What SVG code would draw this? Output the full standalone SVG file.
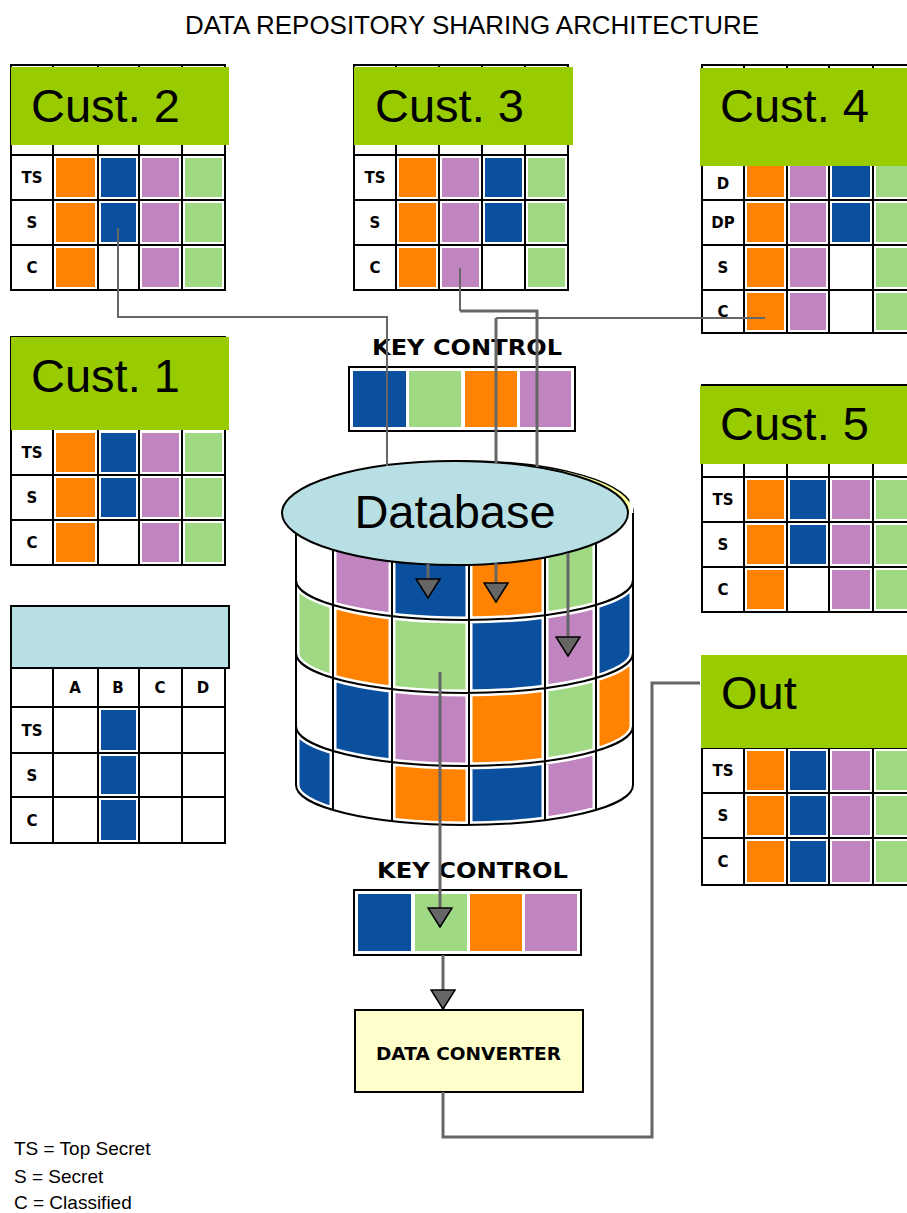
<svg xmlns="http://www.w3.org/2000/svg" width="907" height="1213" viewBox="0 0 907 1213">
<style>
.o{fill:#ff8200}.b{fill:#0b4f9f}.p{fill:#c084c0}.g{fill:#a0d984}
.frame{fill:#fff;stroke:#000;stroke-width:2}
.gl{stroke:#000;stroke-width:2;fill:none}
.hdr{fill:#99cc00}
.cust{font-family:"Liberation Sans",Arial,sans-serif;font-size:47px;fill:#000}
.lbl{font-family:"DejaVu Sans",sans-serif;font-weight:bold;font-size:15px;text-anchor:middle;fill:#000}
.kc{font-family:"DejaVu Sans",sans-serif;font-weight:bold;font-size:21px;fill:#000}
.conn{fill:none;stroke:#666;stroke-width:3}
.thin{stroke-width:2}
.leg{font-family:"Liberation Sans",Arial,sans-serif;font-size:19px;fill:#000}
</style>
<defs>
<marker id="tri" markerUnits="userSpaceOnUse" markerWidth="22" markerHeight="26" refX="19" refY="12" orient="auto" viewBox="-1 -1 21 26">
<path d="M0,0 L19,12 L0,24 Z" fill="#666" stroke="#000" stroke-width="1.5"/>
</marker>
<clipPath id="body"><path d="M296,500 L296,785 A168.5,40 0 0 0 633,785 L633,500 Z"/></clipPath>
<clipPath id="b0"><path d="M296,500 A168.5,40 0 0 0 633,500 L633,580 A168.5,40 0 0 1 296,580 Z"/></clipPath>
<clipPath id="b1"><path d="M296,580 A168.5,40 0 0 0 633,580 L633,653 A168.5,40 0 0 1 296,653 Z"/></clipPath>
<clipPath id="b2"><path d="M296,653 A168.5,40 0 0 0 633,653 L633,726 A168.5,40 0 0 1 296,726 Z"/></clipPath>
<clipPath id="b3"><path d="M296,726 A168.5,40 0 0 0 633,726 L633,785 A168.5,40 0 0 1 296,785 Z"/></clipPath>
</defs>
<rect width="907" height="1213" fill="#fff"/>
<text x="472" y="34" text-anchor="middle" font-family="Liberation Sans, Arial, sans-serif" font-size="25" textLength="574" lengthAdjust="spacingAndGlyphs">DATA REPOSITORY SHARING ARCHITECTURE</text>

<!-- Cust 2 -->
<g id="cust2">
<rect class="frame" x="11" y="65" width="214" height="225"/>
<path class="gl" d="M53,65V290M98,65V290M139,65V290M182,65V290M11,155H225M11,200H225M11,245H225"/>
<rect class="o" x="56" y="158" width="39" height="39"/><rect class="b" x="101" y="158" width="35" height="39"/><rect class="p" x="142" y="158" width="37" height="39"/><rect class="g" x="185" y="158" width="37" height="39"/>
<rect class="o" x="56" y="203" width="39" height="39"/><rect class="b" x="101" y="203" width="35" height="39"/><rect class="p" x="142" y="203" width="37" height="39"/><rect class="g" x="185" y="203" width="37" height="39"/>
<rect class="o" x="56" y="248" width="39" height="39"/><rect class="p" x="142" y="248" width="37" height="39"/><rect class="g" x="185" y="248" width="37" height="39"/>
<rect class="hdr" x="11" y="67" width="218" height="78"/>
<text class="cust" x="31" y="122">Cust. 2</text>
<text class="lbl" x="32" y="183">TS</text><text class="lbl" x="32" y="228">S</text><text class="lbl" x="32" y="273">C</text>
</g>

<!-- Cust 3 -->
<g id="cust3">
<rect class="frame" x="354" y="65" width="214" height="225"/>
<path class="gl" d="M396,65V290M439,65V290M482,65V290M525,65V290M354,155H568M354,200H568M354,245H568"/>
<rect class="o" x="399" y="158" width="37" height="39"/><rect class="p" x="442" y="158" width="37" height="39"/><rect class="b" x="485" y="158" width="37" height="39"/><rect class="g" x="528" y="158" width="37" height="39"/>
<rect class="o" x="399" y="203" width="37" height="39"/><rect class="p" x="442" y="203" width="37" height="39"/><rect class="b" x="485" y="203" width="37" height="39"/><rect class="g" x="528" y="203" width="37" height="39"/>
<rect class="o" x="399" y="248" width="37" height="39"/><rect class="p" x="442" y="248" width="37" height="39"/><rect class="g" x="528" y="248" width="37" height="39"/>
<rect class="hdr" x="354" y="67" width="219" height="78"/>
<text class="cust" x="375" y="122">Cust. 3</text>
<text class="lbl" x="375" y="183">TS</text><text class="lbl" x="375" y="228">S</text><text class="lbl" x="375" y="273">C</text>
</g>

<!-- Cust 4 -->
<g id="cust4">
<rect class="frame" x="702" y="65" width="214" height="268"/>
<path class="gl" d="M744,65V333M787,65V333M829,65V333M873,65V333M702,200H916M702,245H916M702,290H916"/>
<rect class="o" x="747" y="158" width="37" height="39"/><rect class="p" x="790" y="158" width="36" height="39"/><rect class="b" x="832" y="158" width="38" height="39"/><rect class="g" x="876" y="158" width="37" height="39"/>
<rect class="o" x="747" y="203" width="37" height="39"/><rect class="p" x="790" y="203" width="36" height="39"/><rect class="b" x="832" y="203" width="38" height="39"/><rect class="g" x="876" y="203" width="37" height="39"/>
<rect class="o" x="747" y="248" width="37" height="39"/><rect class="p" x="790" y="248" width="36" height="39"/><rect class="g" x="876" y="248" width="37" height="39"/>
<rect class="o" x="747" y="293" width="37" height="37"/><rect class="p" x="790" y="293" width="36" height="37"/><rect class="g" x="876" y="293" width="37" height="37"/>
<rect class="hdr" x="700" y="68" width="207" height="98"/>
<text class="cust" x="720" y="122">Cust. 4</text>
<text class="lbl" x="723" y="189">D</text><text class="lbl" x="723" y="228">DP</text><text class="lbl" x="723" y="273">S</text><text class="lbl" x="723" y="317">C</text>
</g>

<!-- Cust 1 -->
<g id="cust1">
<rect class="frame" x="11" y="337" width="214" height="228"/>
<path class="gl" d="M53,337V565M98,337V565M139,337V565M182,337V565M11,475H225M11,520H225"/>
<rect class="o" x="56" y="433" width="39" height="39"/><rect class="b" x="101" y="433" width="35" height="39"/><rect class="p" x="142" y="433" width="37" height="39"/><rect class="g" x="185" y="433" width="37" height="39"/>
<rect class="o" x="56" y="478" width="39" height="39"/><rect class="b" x="101" y="478" width="35" height="39"/><rect class="p" x="142" y="478" width="37" height="39"/><rect class="g" x="185" y="478" width="37" height="39"/>
<rect class="o" x="56" y="523" width="39" height="39"/><rect class="p" x="142" y="523" width="37" height="39"/><rect class="g" x="185" y="523" width="37" height="39"/>
<rect class="hdr" x="11" y="337" width="218" height="93"/>
<text class="cust" x="31" y="392">Cust. 1</text>
<text class="lbl" x="32" y="458">TS</text><text class="lbl" x="32" y="503">S</text><text class="lbl" x="32" y="548">C</text>
</g>

<!-- Legend table -->
<g id="keytable">
<rect class="frame" x="11" y="606" width="214" height="237"/>
<path class="gl" d="M53,668V843M98,668V843M139,668V843M182,668V843M11,707H225M11,753H225M11,797H225"/>
<rect class="b" x="101" y="710" width="35" height="40"/><rect class="b" x="101" y="756" width="35" height="38"/><rect class="b" x="101" y="800" width="35" height="40"/>
<rect x="11" y="606" width="218" height="62" fill="#b8e0e4" stroke="#000" stroke-width="2"/>
<text class="lbl" x="75" y="693">A</text><text class="lbl" x="118" y="693">B</text><text class="lbl" x="160" y="693">C</text><text class="lbl" x="203" y="693">D</text>
<text class="lbl" x="32" y="736">TS</text><text class="lbl" x="32" y="781">S</text><text class="lbl" x="32" y="826">C</text>
</g>

<!-- Cust 5 -->
<g id="cust5">
<rect class="frame" x="702" y="385" width="214" height="227"/>
<path class="gl" d="M744,385V612M787,385V612M829,385V612M873,385V612M702,477H916M702,522H916M702,567H916"/>
<rect class="o" x="747" y="480" width="37" height="39"/><rect class="b" x="790" y="480" width="36" height="39"/><rect class="p" x="832" y="480" width="38" height="39"/><rect class="g" x="876" y="480" width="37" height="39"/>
<rect class="o" x="747" y="525" width="37" height="39"/><rect class="b" x="790" y="525" width="36" height="39"/><rect class="p" x="832" y="525" width="38" height="39"/><rect class="g" x="876" y="525" width="37" height="39"/>
<rect class="o" x="747" y="570" width="37" height="39"/><rect class="p" x="832" y="570" width="38" height="39"/><rect class="g" x="876" y="570" width="37" height="39"/>
<rect class="hdr" x="700" y="386" width="207" height="78"/>
<text class="cust" x="720" y="440">Cust. 5</text>
<text class="lbl" x="723" y="505">TS</text><text class="lbl" x="723" y="550">S</text><text class="lbl" x="723" y="595">C</text>
</g>

<!-- Out -->
<g id="out">
<rect class="frame" x="702" y="748" width="214" height="137"/>
<path class="gl" d="M744,748V885M787,748V885M829,748V885M873,748V885M702,793H916M702,838H916"/>
<rect class="o" x="747" y="751" width="37" height="39"/><rect class="b" x="790" y="751" width="36" height="39"/><rect class="p" x="832" y="751" width="38" height="39"/><rect class="g" x="876" y="751" width="37" height="39"/>
<rect class="o" x="747" y="796" width="37" height="39"/><rect class="b" x="790" y="796" width="36" height="39"/><rect class="p" x="832" y="796" width="38" height="39"/><rect class="g" x="876" y="796" width="37" height="39"/>
<rect class="o" x="747" y="841" width="37" height="41"/><rect class="b" x="790" y="841" width="36" height="41"/><rect class="p" x="832" y="841" width="38" height="41"/><rect class="g" x="876" y="841" width="37" height="41"/>
<rect class="hdr" x="701" y="655" width="206" height="93"/>
<text class="cust" x="721" y="709">Out</text>
<text class="lbl" x="723" y="776">TS</text><text class="lbl" x="723" y="821">S</text><text class="lbl" x="723" y="867">C</text>
</g>

<!-- Key control top -->
<g id="keycontrol1">
<text class="kc" x="372" y="355" textLength="190" lengthAdjust="spacingAndGlyphs">KEY CONTROL</text>
<rect class="frame" x="349" y="367" width="226" height="64"/>
<rect class="b" x="353" y="371" width="53" height="56"/><rect class="g" x="409" y="371" width="52" height="56"/><rect class="o" x="465" y="371" width="52" height="56"/><rect class="p" x="520" y="371" width="51" height="56"/>
</g>

<!-- Database -->
<g id="database">
<ellipse cx="465" cy="511" rx="168" ry="50" fill="#ffff99" stroke="#000" stroke-width="1.5"/>
<path d="M296,513 L296,785 A168.5,40 0 0 0 633,785 L633,513 Z" fill="#fff"/>
<g clip-path="url(#b0)">
<rect class="p" x="333" y="495" width="59" height="130"/><rect class="b" x="392" y="495" width="77" height="130"/><rect class="o" x="469" y="495" width="76" height="130"/><rect class="g" x="545" y="495" width="51" height="130"/>
</g>
<g clip-path="url(#b1)">
<rect class="g" x="296" y="575" width="37" height="125"/><rect class="o" x="333" y="575" width="59" height="125"/><rect class="g" x="392" y="575" width="77" height="125"/><rect class="b" x="469" y="575" width="76" height="125"/><rect class="p" x="545" y="575" width="51" height="125"/><rect class="b" x="596" y="575" width="37" height="125"/>
</g>
<g clip-path="url(#b2)">
<rect class="b" x="333" y="648" width="59" height="125"/><rect class="p" x="392" y="648" width="77" height="125"/><rect class="o" x="469" y="648" width="76" height="125"/><rect class="g" x="545" y="648" width="51" height="125"/><rect class="o" x="596" y="648" width="37" height="125"/>
</g>
<g clip-path="url(#b3)">
<rect class="b" x="296" y="720" width="37" height="115"/><rect class="o" x="392" y="720" width="77" height="115"/><rect class="b" x="469" y="720" width="76" height="115"/><rect class="p" x="545" y="720" width="51" height="115"/>
</g>
<g clip-path="url(#body)" fill="none">
<path stroke="#fff" stroke-width="7" d="M296,580 A168.5,40 0 0 0 633,580 M296,653 A168.5,40 0 0 0 633,653 M296,726 A168.5,40 0 0 0 633,726 M333,500V840M392,500V840M469,500V840M545,500V840M596,500V840 M296,500V785 M633,500V785 M296,785 A168.5,40 0 0 0 633,785"/>
<path stroke="#000" stroke-width="2" d="M296,580 A168.5,40 0 0 0 633,580 M296,653 A168.5,40 0 0 0 633,653 M296,726 A168.5,40 0 0 0 633,726 M333,500V840M392,500V840M469,500V840M545,500V840M596,500V840"/>
</g>
<path d="M296,513 L296,785 A168.5,40 0 0 0 633,785 L633,513" fill="none" stroke="#000" stroke-width="2"/>
<ellipse cx="455" cy="513" rx="173" ry="52" fill="#b8e0e4" stroke="#000" stroke-width="2"/>
<text x="455" y="528" text-anchor="middle" font-family="Liberation Sans, Arial, sans-serif" font-size="47">Database</text>
</g>

<!-- Key control bottom -->
<g id="keycontrol2">
<text class="kc" x="377" y="878" textLength="191" lengthAdjust="spacingAndGlyphs">KEY CONTROL</text>
<rect class="frame" x="354" y="890" width="227" height="65"/>
<rect class="b" x="358" y="894" width="53" height="57"/><rect class="g" x="415" y="894" width="52" height="57"/><rect class="o" x="470" y="894" width="52" height="57"/><rect class="p" x="525" y="894" width="52" height="57"/>
</g>

<!-- Data converter -->
<g id="converter">
<rect x="355" y="1010" width="228" height="82" fill="#ffffcc" stroke="#000" stroke-width="2"/>
<text x="376" y="1060" font-family="DejaVu Sans, sans-serif" font-weight="bold" font-size="17" textLength="185" lengthAdjust="spacingAndGlyphs">DATA CONVERTER</text>
</g>

<!-- Connectors -->
<g id="connectors">
<polyline class="conn thin" points="118,228 118,317 387,317 387,466"/>
<polyline class="conn thin" points="460,268 460,311"/>
<polyline class="conn" points="460,311 537,311 537,467"/>
<polyline class="conn thin" points="765,318 496,318"/>
<polyline class="conn" points="496,318 496,463"/>
<line class="conn" x1="428" y1="564" x2="428" y2="598" marker-end="url(#tri)"/>
<line class="conn" x1="496" y1="563" x2="496" y2="602" marker-end="url(#tri)"/>
<line class="conn" x1="568" y1="553" x2="568" y2="656" marker-end="url(#tri)"/>
<line class="conn" x1="440" y1="672" x2="440" y2="927" marker-end="url(#tri)"/>
<line class="conn" x1="443" y1="955" x2="443" y2="1009" marker-end="url(#tri)"/>
<polyline class="conn" points="443,1092 443,1137 652,1137 652,683 700,683"/>
</g>

<!-- Legend -->
<g id="legend">
<text class="leg" x="14" y="1155">TS = Top Secret</text>
<text class="leg" x="14" y="1183">S = Secret</text>
<text class="leg" x="14" y="1209">C = Classified</text>
</g>
</svg>
